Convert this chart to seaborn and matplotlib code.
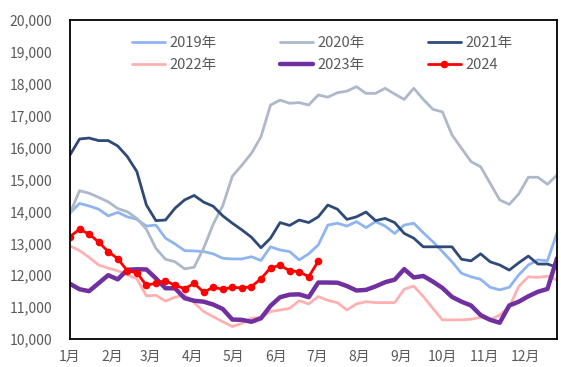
import numpy as np
import pandas as pd
import matplotlib
matplotlib.use("Agg")
import matplotlib.pyplot as plt
import seaborn as sns

# Weekly values per year (week index 0..51)
y2019 = [13950, 14250, 14170, 14070, 13860, 13970, 13830, 13750, 13540, 13570,
         13160, 12980, 12770, 12760, 12740, 12670, 12530, 12510, 12510, 12580,
         12460, 12890, 12790, 12740, 12480, 12670, 12950, 13570, 13630, 13540,
         13680, 13490, 13680, 13540, 13310, 13570, 13630, 13330, 13050, 12740,
         12420, 12060, 11950, 11870, 11620, 11540, 11620, 12010, 12320, 12480,
         12450, 13330]
y2020 = [13940, 14650, 14570, 14440, 14300, 14090, 13990, 13780, 13440, 12840,
         12500, 12420, 12200, 12250, 12850, 13600, 14180, 15100, 15450, 15820,
         16340, 17335, 17490, 17390, 17410, 17335, 17650, 17580, 17720, 17770,
         17910, 17700, 17700, 17860, 17680, 17510, 17860, 17510, 17200, 17120,
         16400, 15980, 15560, 15400, 14880, 14360, 14220, 14550, 15070, 15070,
         14850, 15140]
y2021 = [15770, 16270, 16300, 16220, 16220, 16050, 15720, 15250, 14200, 13710,
         13730, 14100, 14360, 14500, 14290, 14160, 13860, 13630, 13420, 13190,
         12860, 13160, 13650, 13560, 13730, 13650, 13830, 14200, 14070, 13750,
         13830, 13980, 13710, 13780, 13650, 13310, 13160, 12890, 12890, 12890,
         12890, 12500, 12450, 12670, 12420, 12320, 12160, 12390, 12600, 12350,
         12350, 12250]
y2022 = [12920, 12770, 12560, 12320, 12220, 12140, 12010, 11890, 11350, 11370,
         11190, 11310, 11380, 11140, 10860, 10700, 10540, 10390, 10490, 10650,
         10680, 10860, 10910, 10960, 11200, 11100, 11330, 11210, 11140, 10910,
         11100, 11170, 11140, 11140, 11140, 11560, 11660, 11330, 10960, 10600,
         10600, 10600, 10620, 10680, 10600, 10750, 11000, 11650, 11950, 11930,
         11970, 11850]
y2023 = [11730, 11560, 11500, 11750, 12000, 11870, 12170, 12185, 12180, 11900,
         11590, 11590, 11280, 11200, 11170, 11080, 10940, 10610, 10600, 10540,
         10650, 11040, 11310, 11390, 11400, 11310, 11770, 11770, 11765, 11660,
         11520, 11540, 11650, 11780, 11860, 12190, 11930, 11975, 11800, 11600,
         11320, 11170, 11050, 10750, 10600, 10510, 11050, 11170, 11340, 11480,
         11570, 12530]
y2024 = [13210, 13440, 13290, 13040, 12740, 12520, 12140, 12080, 11680, 11750,
         11830, 11680, 11580, 11740, 11470, 11620, 11560, 11620, 11600, 11640,
         11890, 12230, 12310, 12140, 12110, 11950, 12440]

series_names = ["2019年", "2020年", "2021年", "2022年", "2023年", "2024"]
month_labels = ["1月", "2月", "3月", "4月", "5月", "6月",
                "7月", "8月", "9月", "10月", "11月", "12月"]
month_start_day = [0, 31, 59, 90, 120, 151, 181, 212, 243, 273, 304, 334]

colors = ["#8FB4F2", "#ADB9CB", "#2F4A78", "#FFB0B0", "#7030A0", "#FF0000"]
widths = [2.0, 2.0, 2.0, 2.0, 3.2, 2.0]

sns.set_theme(style="white")
plt.rcParams["font.family"] = ["Noto Sans CJK SC", "DejaVu Sans"]

fig = plt.figure(figsize=(5.61, 3.67), dpi=100)
ax = fig.add_axes([70 / 561, 1 - 339 / 367, 487 / 561, 319 / 367])

all_series = [y2019, y2020, y2021, y2022, y2023, y2024]
for name, vals, c, lw in zip(series_names, all_series, colors, widths):
    df = pd.DataFrame({"week": np.arange(len(vals)), "value": vals})
    kw = {}
    if name == "2024":
        kw = dict(marker="o", markersize=5.5, markeredgewidth=0)
    sns.lineplot(data=df, x="week", y="value", ax=ax, color=c, linewidth=lw,
                 label=name, **kw)

ax.set_xlim(0, 51)
ax.set_ylim(10000, 20000)
ax.set_xticks([d / 7 for d in month_start_day])
ax.set_xticklabels(month_labels)
ax.set_yticks(np.arange(10000, 20001, 1000))
ax.set_yticklabels([f"{v:,}" for v in range(10000, 20001, 1000)])
ax.set_xlabel("")
ax.set_ylabel("")

for s in ax.spines.values():
    s.set_color("black")
    s.set_linewidth(1.3)
ax.tick_params(axis="both", direction="in", length=5.5, width=1, color="black",
               labelsize=10, labelcolor="#595959")
ax.tick_params(axis="x", pad=8)
ax.tick_params(axis="y", pad=13)

handles, labels = ax.get_legend_handles_labels()
order = [0, 3, 1, 4, 2, 5]
ax.legend([handles[i] for i in order], [labels[i] for i in order],
          ncol=3, loc="upper left", bbox_to_anchor=(0.1, 0.99),
          frameon=False, fontsize=10.5, labelcolor="#595959",
          handlelength=2.3, handletextpad=0.3, columnspacing=4.3,
          labelspacing=0.55)

fig.savefig("out.png", dpi=100)
